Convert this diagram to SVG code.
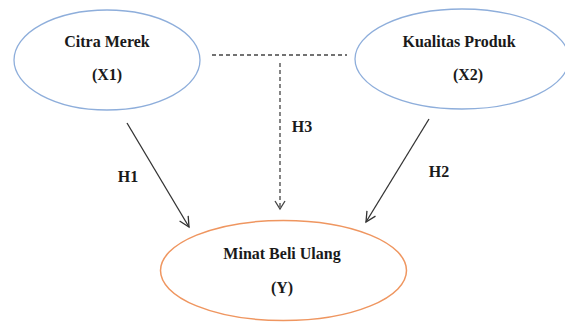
<svg xmlns="http://www.w3.org/2000/svg" width="565" height="322" viewBox="0 0 565 322">
<style>
text{font-family:'Liberation Serif','DejaVu Serif',serif;font-weight:bold;font-size:16px;fill:#1a1a1a;text-anchor:middle}
.x{fill:none;stroke:#8eaedb;stroke-width:1.3}
.y{fill:none;stroke:#ef9660;stroke-width:1.5}
.c{fill:none;stroke:#333;stroke-width:1.3}
.d{fill:none;stroke:#444;stroke-width:1.3;stroke-dasharray:4,3}
</style>
<defs>
<marker id="ah" markerUnits="userSpaceOnUse" markerWidth="14" markerHeight="14" refX="11" refY="6" orient="auto">
<path d="M1,1 L11,6 L1,11" fill="none" stroke="#333" stroke-width="1.3"/>
</marker>
<marker id="ahd" markerUnits="userSpaceOnUse" markerWidth="12" markerHeight="12" refX="9" refY="6" orient="auto">
<path d="M1,1 L9,6 L1,11" fill="none" stroke="#444" stroke-width="1.3"/>
</marker>
</defs>
<g id="connectors">
<line class="d" x1="212" y1="55" x2="347" y2="55"/>
<line class="d" x1="280" y1="63" x2="280" y2="209" marker-end="url(#ahd)"/>
<line class="c" x1="127" y1="123" x2="189" y2="227" marker-end="url(#ah)"/>
<line class="c" x1="429" y1="119" x2="366" y2="222" marker-end="url(#ah)"/>
<text x="128" y="182" font-family="Liberation Serif, serif">H1</text>
<text x="302" y="132" font-family="Liberation Serif, serif">H3</text>
<text x="439" y="177" font-family="Liberation Serif, serif">H2</text>
</g>
<g id="x1">
<ellipse class="x" cx="107" cy="60" rx="93" ry="50"/>
<text x="107" y="47" font-family="Liberation Serif, serif">Citra Merek</text>
<text x="107" y="80" font-family="Liberation Serif, serif">(X1)</text>
</g>
<g id="x2">
<ellipse class="x" cx="462" cy="59" rx="107" ry="50"/>
<text x="459" y="47" font-family="Liberation Serif, serif">Kualitas Produk</text>
<text x="468" y="80" font-family="Liberation Serif, serif">(X2)</text>
</g>
<g id="y">
<ellipse class="y" cx="283.5" cy="270.5" rx="123" ry="50"/>
<text x="282" y="259" font-family="Liberation Serif, serif">Minat Beli Ulang</text>
<text x="282" y="293" font-family="Liberation Serif, serif">(Y)</text>
</g>
</svg>
